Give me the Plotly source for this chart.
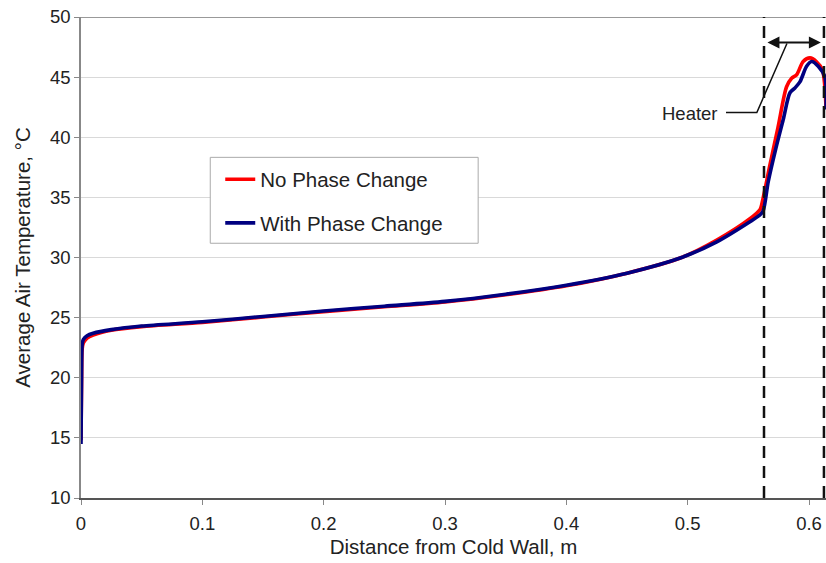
import plotly.graph_objects as go

# ---- data ----
x_no_pc = [0, 0.0005, 0.001, 0.002, 0.005, 0.01, 0.025, 0.05, 0.1, 0.15, 0.2, 0.25,
           0.3, 0.35, 0.4, 0.45, 0.495, 0.524, 0.551, 0.5597, 0.561, 0.5678, 0.5744,
           0.5815, 0.5857, 0.5898, 0.5952, 0.6008, 0.606, 0.611, 0.614]
y_no_pc = [14.8, 20.0, 22.4, 22.9, 23.3, 23.55, 23.95, 24.25, 24.6, 25.05, 25.5, 25.9,
           26.3, 26.9, 27.65, 28.7, 30.0, 31.45, 33.2, 34.0, 34.4, 37.7, 40.8,
           44.2, 44.9, 45.2, 46.3, 46.6, 46.3, 45.6, 42.5]

x_with_pc = [0, 0.0005, 0.001, 0.002, 0.005, 0.01, 0.025, 0.05, 0.1, 0.15, 0.2, 0.25,
             0.3, 0.35, 0.4, 0.45, 0.495, 0.524, 0.551, 0.5597, 0.5623, 0.5664, 0.5725,
             0.5787, 0.5843, 0.5884, 0.5925, 0.598, 0.6021, 0.6076, 0.6131, 0.614]
y_with_pc = [14.5, 20.5, 22.8, 23.2, 23.5, 23.7, 24.0, 24.3, 24.65, 25.1, 25.55, 25.95,
             26.35, 26.95, 27.7, 28.7, 30.0, 31.3, 32.95, 33.55, 33.9, 36.3, 39.0,
             41.45, 43.7, 44.1, 44.6, 45.9, 46.3, 45.9, 45.0, 42.3]

series_names = ["No Phase Change", "With Phase Change"]
series_colors = ["#ff0000", "#000080"]

heater_start = 0.5629
heater_end = 0.6123

x_ticks = [0, 0.1, 0.2, 0.3, 0.4, 0.5, 0.6]
x_tick_labels = ["0", "0.1", "0.2", "0.3", "0.4", "0.5", "0.6"]
y_ticks = [10, 15, 20, 25, 30, 35, 40, 45, 50]

FONT = "Liberation Sans, Arial, sans-serif"
TXT = "#222222"

fig = go.Figure()
fig.add_trace(go.Scatter(x=x_no_pc, y=y_no_pc, mode="lines", name=series_names[0],
                         line=dict(color=series_colors[0], width=3.6, shape="spline",
                                   smoothing=0.8),
                         legendgroup="a"))
fig.add_trace(go.Scatter(x=x_with_pc, y=y_with_pc, mode="lines", name=series_names[1],
                         line=dict(color=series_colors[1], width=3.6, shape="spline",
                                   smoothing=0.8),
                         legendgroup="b"))

# heater boundaries
for xv in (heater_start, heater_end):
    fig.add_shape(type="line", xref="x", yref="y", x0=xv, x1=xv, y0=10, y1=50,
                  line=dict(color="#111111", width=2.5, dash="12px,8px"))

# top border line at 50
fig.add_shape(type="line", xref="x", yref="y", x0=0, x1=0.614, y0=50, y1=50,
              line=dict(color="#999999", width=2), layer="below")

# legend frame (opaque, above the grid and traces)
fig.add_shape(type="rect", xref="paper", yref="paper",
              x0=0.1735, x1=0.5331, y0=0.5296, y1=0.7082,
              line=dict(color="#aaaaaa", width=1), fillcolor="white", layer="above")

# double arrow for the heater width
fig.add_annotation(x=0.6098, y=47.87, ax=0.5645, ay=47.87, xref="x", yref="y",
                   axref="x", ayref="y", text="", showarrow=True,
                   arrowhead=2, startarrowhead=2, arrowside="end+start",
                   arrowsize=1.2, startarrowsize=1.2, arrowwidth=2, arrowcolor="#111111")

# leader line from label
fig.add_shape(type="path", xref="x", yref="y",
              path="M 0.5316 42.06 L 0.557 42.06 L 0.5818 47.8",
              line=dict(color="#111111", width=1.5))
fig.add_annotation(x=0.5266, y=42.0, xref="x", yref="y", text="Heater",
                   showarrow=False, xanchor="right", yanchor="middle",
                   font=dict(family=FONT, size=18.5, color=TXT))

fig.update_layout(
    width=826, height=563,
    margin=dict(l=80.7, r=0, t=16.5, b=65),
    paper_bgcolor="white", plot_bgcolor="white",
    font=dict(family=FONT, color=TXT),
    showlegend=True,
    legend=dict(x=0.1869, y=0.704, xanchor="left", yanchor="top",
                bgcolor="rgba(0,0,0,0)", borderwidth=0,
                font=dict(family=FONT, size=20.5, color=TXT),
                tracegroupgap=14, traceorder="grouped"),
    xaxis=dict(range=[0, 0.614], tickvals=x_ticks, ticktext=x_tick_labels,
               showgrid=False, zeroline=False, showline=True, linecolor="#555555",
               linewidth=1.5, ticks="outside", ticklen=5, tickcolor="#888888",
               ticklabelstandoff=3,
               tickfont=dict(family=FONT, size=18.5, color=TXT),
               title=dict(text="Distance from Cold Wall, m", standoff=7,
                          font=dict(family=FONT, size=20.5, color=TXT))),
    yaxis=dict(range=[10, 50], tickvals=y_ticks, showgrid=True,
               gridcolor="#d9d9d9", gridwidth=1, zeroline=False, showline=True,
               linecolor="#888888", linewidth=1.5, ticks="outside", ticklen=5,
               tickcolor="#888888",
               tickfont=dict(family=FONT, size=18.5, color=TXT),
               title=dict(text="Average Air Temperature, °C", standoff=14,
                          font=dict(family=FONT, size=20.5, color=TXT))),
)

fig.write_html("out.html")
